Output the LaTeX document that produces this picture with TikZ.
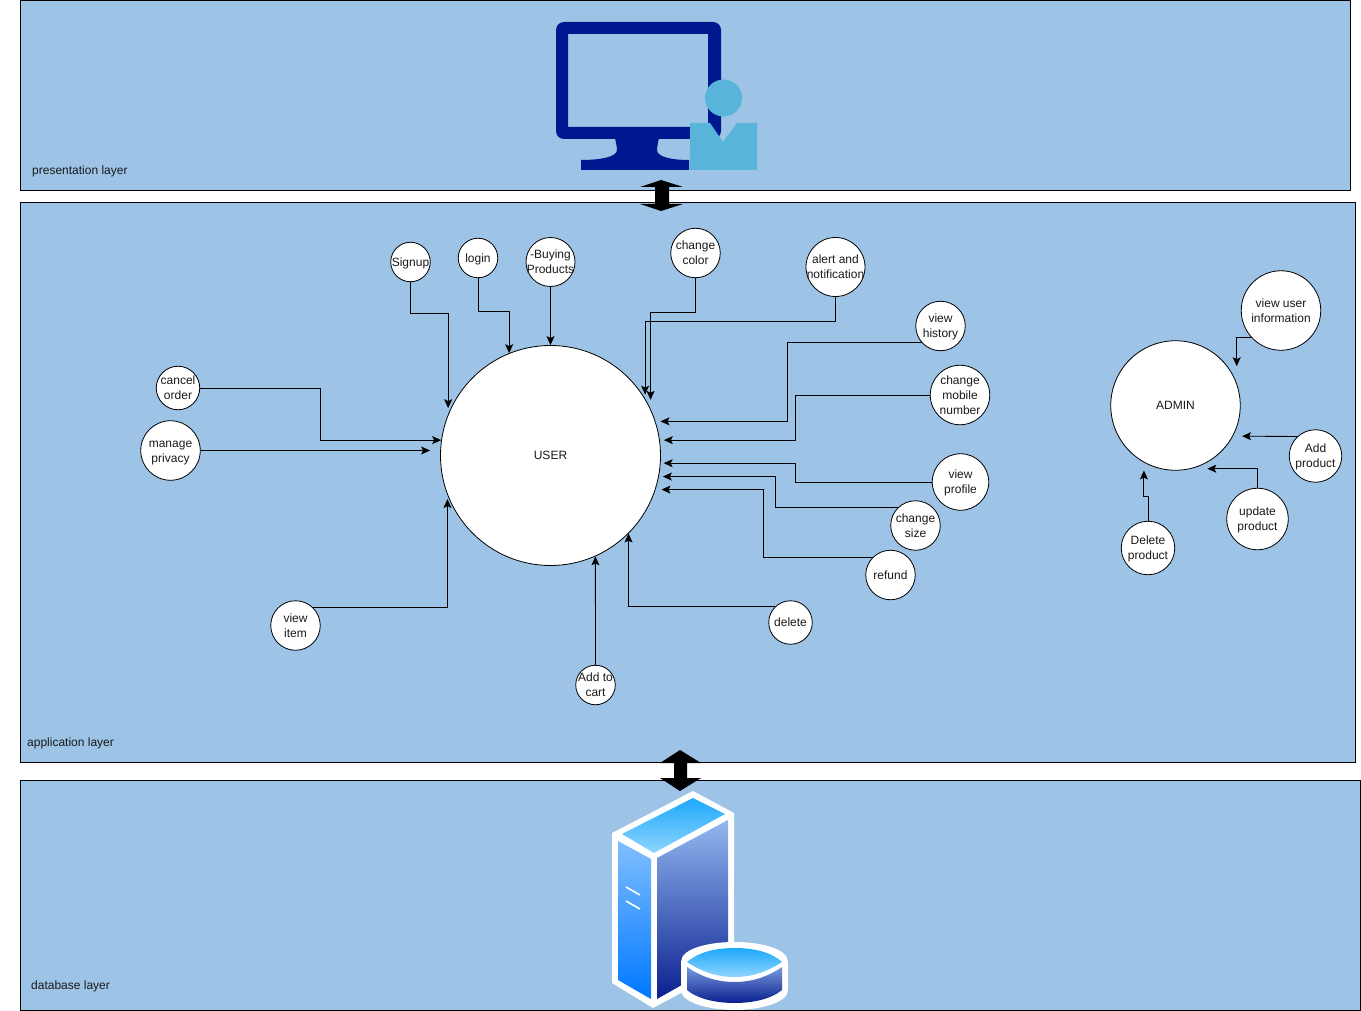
\documentclass[tikz,border=0pt]{standalone}
\usepackage{fontspec}
\setmainfont{Liberation Sans}
\usetikzlibrary{arrows.meta, positioning, calc}
\definecolor{layerblue}{HTML}{9DC3E6}
\definecolor{screenblue}{HTML}{00188F}
\definecolor{personblue}{HTML}{59B4D9}
\definecolor{capdark}{HTML}{1EA8FB}
\definecolor{caplight}{HTML}{8FD5FF}
\definecolor{sidelight}{HTML}{80BEFF}
\definecolor{sidedark}{HTML}{0078FF}
\definecolor{facelight}{HTML}{93B8F0}
\definecolor{facedark}{HTML}{0A1F8F}
\definecolor{inktext}{HTML}{1A1A1A}
\tikzset{
        band/.style={draw=black, fill=layerblue, line width=0.8pt},
        bubble/.style={circle, draw=black, fill=white, line width=0.8pt, inner sep=-9pt, align=center, text=inktext, text depth=0pt, font=\fontsize{12}{15}\selectfont},
        tag/.style={anchor=west, inner sep=0pt, text=inktext, font=\fontsize{12}{15}\selectfont},
        conn/.style={draw=black, line width=0.9pt, -{Stealth[length=9pt, width=8pt, inset=2pt]}}
}

\begin{document}
\begin{tikzpicture}[x=1pt, y=-1pt]
        \useasboundingbox (0,0) rectangle (1361,1011);
        \fill[white] (0,0) rectangle (1361,1011);

        \draw[band] (20,0.5) rectangle (1350,190);
        \draw[band] (20,202) rectangle (1355,762);
        \draw[band] (20,780) rectangle (1360,1010);

        \node[tag] (presentation) at (32,171) {presentation layer};
        \node[tag] (application) at (27,743) {application layer};
        \node[tag] (database) at (31,986) {database layer};

        \fill[black] (661,180) -- (683,187) -- (669,187) -- (669,204) -- (683,204) -- (661,211) -- (640,204) -- (655,204) -- (655,187) -- (640,187) -- cycle;
        \fill[black] (680,750) -- (701,763) -- (687,763) -- (687,778) -- (701,778) -- (680,791) -- (660,778) -- (674,778) -- (674,763) -- (660,763) -- cycle;

        \fill[screenblue, even odd rule, rounded corners=8pt] (556,22) rectangle (721,139) [sharp corners] (568,34) rectangle (708,127);
        \fill[screenblue] (615,138) .. controls (616,143) and (617,147) .. (617,150) .. controls (617,157) and (600,160) .. (581,160) -- (581,170) -- (689,170) -- (689,160) .. controls (672,160) and (657,157) .. (657,150) .. controls (657,147) and (658,143) .. (659,138) -- cycle;
        \fill[personblue] (723.5,98) circle (18.5);
        \fill[personblue] (690,123) -- (710,123) -- (723,142) -- (737,123) -- (757,123) -- (757,170) -- (690,170) -- cycle;

        \fill[white] (693,791) -- (734,813) -- (734,950) -- (683,992) -- (653,1008) -- (612,983) -- (612,833) -- cycle;
        \path[top color=capdark, bottom color=caplight] (693,798) -- (725,814) -- (654,853) -- (622,834) -- cycle;
        \path[top color=sidelight, bottom color=sidedark] (618,841) -- (651,859) -- (651,999) -- (618,980) -- cycle;
        \path[top color=facelight, bottom color=facedark] (728,820) -- (728,960) -- (680,986) -- (657,999) -- (657,858) -- cycle;
        \draw[white, line width=1.6pt] (626,887) -- (640,895);
        \draw[white, line width=1.6pt] (626,901) -- (640,909);
        \fill[white] (681,962) .. controls (681,948) and (710,942) .. (734.5,942) .. controls (759,942) and (788,948) .. (788,962) -- (788,990) .. controls (788,1003) and (759,1010) .. (734.5,1010) .. controls (710,1010) and (681,1003) .. (681,990) -- cycle;
        \path[top color=capdark, bottom color=caplight] (687,962) .. controls (700,951) and (718,948) .. (734.5,948) .. controls (751,948) and (770,951) .. (782,962) .. controls (765,973) and (750,977) .. (734.5,977) .. controls (719,977) and (704,973) .. (687,962) -- cycle;
        \path[top color=facelight!80!facedark, bottom color=facedark] (687,967) .. controls (703,978) and (719,982) .. (734.5,982) .. controls (750,982) and (766,978) .. (782,967) -- (782,990) .. controls (770,1000) and (750,1003) .. (734.5,1003) .. controls (719,1003) and (699,1000) .. (687,990) -- cycle;

        \node[bubble, minimum size=220pt] (user) at (550.5,455.5) {USER};
        \node[bubble, minimum size=129.5pt] (admin) at (1175.5,405.5) {ADMIN};

        \node[bubble, minimum size=39.5pt] (signup) at (410.5,262) {Signup};
        \node[bubble, minimum size=39.5pt] (login) at (478,258) {login};
        \node[bubble, minimum size=49pt] (buying) at (550.5,262) {-Buying\\Products};
        \node[bubble, minimum size=49.5pt] (color) at (695.5,253) {change\\color};
        \node[bubble, minimum size=59pt] (alert) at (835.5,267) {alert and\\notification};
        \node[bubble, minimum size=49.5pt] (history) at (940.5,326) {view\\history};
        \node[bubble, minimum size=59.5pt] (mobile) at (960,395) {change\\mobile\\number};
        \node[bubble, minimum size=56.5pt] (profile) at (960.5,482) {view\\profile};
        \node[bubble, minimum size=49.5pt] (size) at (915.5,525.5) {change\\size};
        \node[bubble, minimum size=49.5pt] (refund) at (890.5,575) {refund};
        \node[bubble, minimum size=43.5pt] (delete) at (790.5,622.5) {delete};
        \node[bubble, minimum size=39.5pt] (cart) at (595.5,685) {Add to\\cart};
        \node[bubble, minimum size=49.5pt] (item) at (295.5,625.5) {view\\item};
        \node[bubble, minimum size=59.5pt] (privacy) at (170.5,450.5) {\vphantom{l}manage\\privacy};
        \node[bubble, minimum size=43.5pt] (cancel) at (178,388) {cancel\\order};

        \node[bubble, minimum size=79.5pt] (info) at (1281,310.5) {view user\\information};
        \node[bubble, minimum size=52.5pt] (add) at (1315.5,456) {Add\\product};
        \node[bubble, minimum size=61.5pt] (update) at (1257.5,519) {update\\product};
        \node[bubble, minimum size=53.5pt] (remove) at (1148,548) {Delete\\product};

        \draw[conn, shorten >=6pt] (signup.south) |- (user.158 |- 0,313.5) -- (user.158);
        \draw[conn] (login.south) |- (user.112 |- 0,311.5) -- (user.112);
        \draw[conn] (buying.south) -- (user.north);
        \draw[conn, shorten >=9pt] (color.south) |- (user.25.2 |- 0,312) -- (user.25.2);
        \draw[conn, shorten >=4pt] (alert.south) |- (user.31.7 |- 0,321) -- (user.31.7);
        \draw[conn, shorten >=5pt] (history.222) -| (user.18 -| 787.5,0) -- (user.18);
        \draw[conn, shorten >=4pt] (mobile.west) -| (user.8.2 -| 795.5,0) -- (user.8.2);
        \draw[conn, shorten >=3pt] (profile.west) -| (user.-4.1 -| 795.5,0) -- (user.-4.1);
        \draw[conn, shorten >=4pt] (size.135) -| (user.-11.5 -| 775.5,0) -- (user.-11.5);
        \draw[conn, shorten >=6pt] (refund.135) -| (user.-18.5 -| 763,0) -- (user.-18.5);
        \draw[conn] (delete.135) -| (user.-45.5);
        \draw[conn] (cart.north) -- (user.-66.3);
        \draw[conn, shorten >=4pt] (item.45) -| (user.-159.5);
        \draw[conn, shorten >=10pt] (privacy.east) -- (privacy.east -| user.west);
        \draw[conn] (cancel.east) -| (user.172.5 -| 320.5,0) -- (user.172.5);

        \draw[conn, shorten >=17pt] (info.222) -| (admin.20.2);
        \draw[conn, shorten >=9pt] (add.133) -- (admin.-28);
        \draw[conn, shorten >=16pt] (update.north) |- (admin.-76);
        \draw[conn, shorten >=8pt] (remove.north) |- (admin.-119.5 |- 0,496) -- (admin.-119.5);
\end{tikzpicture}
\end{document}
